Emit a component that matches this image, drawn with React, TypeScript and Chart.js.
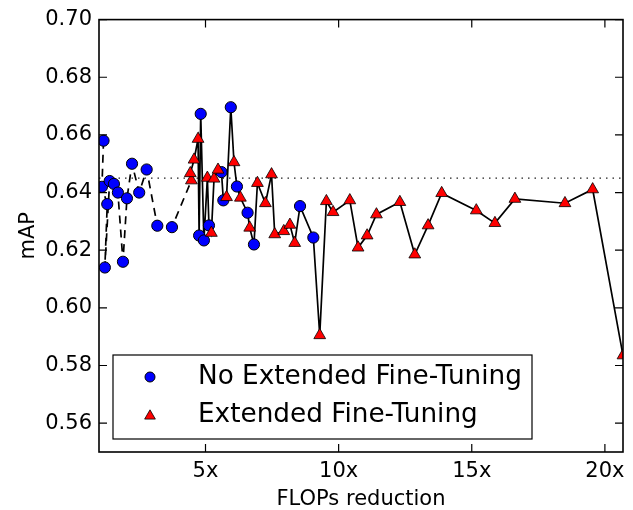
import React, { useEffect, useRef } from 'react';
import { Chart, registerables } from 'chart.js';

Chart.register(...registerables);

const FONT = '"DejaVu Sans", "Liberation Sans", sans-serif';

// Axis settings
const X_MIN = 1.0;
const X_MAX = 20.68;
const Y_MIN = 0.55;
const Y_MAX = 0.7;
const xTickValues = [5, 10, 15, 20];
const yTickValues = [0.56, 0.58, 0.6, 0.62, 0.64, 0.66, 0.68, 0.7];
const baselineMAP = 0.645;
const seriesLabels = ['No Extended Fine-Tuning', 'Extended Fine-Tuning'];

// No extended fine-tuning (dashed path, in drawing order)
const noFtX = [1.17, 1.11, 1.31, 1.22, 1.4, 1.56, 1.71, 1.9, 2.05, 2.24, 2.51, 2.79, 3.19, 3.74];
const noFtY = [0.658, 0.642, 0.636, 0.614, 0.644, 0.643, 0.64, 0.616, 0.638, 0.65, 0.64, 0.648, 0.6285, 0.628];

// Solid path (in drawing order); kind: 'E' = extended fine-tuning, 'N' = no extended fine-tuning
const pathX = [
  4.47, 4.43, 4.57, 4.72, 4.76, 4.82, 4.94, 5.07, 5.13, 5.22, 5.32, 5.47, 5.6, 5.67, 5.79, 5.95,
  6.07, 6.18, 6.31, 6.58, 6.66, 6.82, 6.95, 7.25, 7.48, 7.6, 7.94, 8.17, 8.35, 8.55, 9.05, 9.29,
  9.54, 9.79, 10.42, 10.73, 11.07, 11.42, 12.3, 12.86, 13.36, 13.87, 15.17, 15.87, 16.62, 18.5, 19.54, 20.68,
];
const pathY = [
  0.6442, 0.6467, 0.6514, 0.6586, 0.6251, 0.6673, 0.6234, 0.6451, 0.6286, 0.626, 0.6448, 0.6479, 0.6471, 0.6373, 0.6384, 0.6696,
  0.6505, 0.6421, 0.6382, 0.633, 0.6278, 0.622, 0.6433, 0.6363, 0.6463, 0.6255, 0.6266, 0.6288, 0.6225, 0.6353, 0.6244, 0.5905,
  0.637, 0.6332, 0.6373, 0.6209, 0.6251, 0.6324, 0.6367, 0.6185, 0.6286, 0.6398, 0.6338, 0.6294, 0.6378, 0.6363, 0.6411, 0.5835,
];
const pathKind = [
  'E', 'E', 'E', 'E', 'N', 'N', 'N', 'E', 'N', 'E', 'E', 'E', 'N', 'N', 'E', 'N',
  'E', 'N', 'E', 'N', 'E', 'N', 'E', 'E', 'E', 'E', 'E', 'E', 'E', 'N', 'N', 'E',
  'E', 'E', 'E', 'E', 'E', 'E', 'E', 'E', 'E', 'E', 'E', 'E', 'E', 'E', 'E', 'E',
];

const BLUE = '#0000ff';
const RED = '#ff0000';
const CIRCLE_R = 5.6;
const TRI_R = 6.8;

const framePlugin = {
  id: 'frameAndLegend',
  afterDatasetsDraw(chart: any) {
    const { ctx, chartArea } = chart;
    const { left, right, top, bottom } = chartArea;
    const xs = chart.scales.x;
    const ys = chart.scales.y;
    ctx.save();
    // inward ticks
    ctx.strokeStyle = '#000';
    ctx.lineWidth = 1.2;
    ctx.beginPath();
    for (const v of xTickValues) {
      const px = xs.getPixelForValue(v);
      ctx.moveTo(px, bottom);
      ctx.lineTo(px, bottom - 8);
      ctx.moveTo(px, top);
      ctx.lineTo(px, top + 8);
    }
    for (const v of yTickValues) {
      const py = ys.getPixelForValue(v);
      ctx.moveTo(left, py);
      ctx.lineTo(left + 8, py);
      ctx.moveTo(right, py);
      ctx.lineTo(right - 8, py);
    }
    ctx.stroke();
    // frame
    ctx.lineWidth = 1.6;
    ctx.strokeRect(left, top, right - left, bottom - top);

    // legend
    const bx = left + 14;
    const by = bottom - 97;
    const bw = 419;
    const bh = 84;
    ctx.fillStyle = '#fff';
    ctx.fillRect(bx, by, bw, bh);
    ctx.lineWidth = 1.2;
    ctx.strokeStyle = '#000';
    ctx.strokeRect(bx, by, bw, bh);

    const mx = bx + 37;
    // circle
    ctx.beginPath();
    ctx.arc(mx, by + 22, 5, 0, Math.PI * 2);
    ctx.fillStyle = BLUE;
    ctx.fill();
    ctx.lineWidth = 1;
    ctx.stroke();
    // triangle
    const r = 6.2;
    const ty = by + 61;
    ctx.beginPath();
    for (let i = 0; i < 3; i++) {
      const a = (i * 2 * Math.PI) / 3;
      const px = mx + Math.sin(a) * r;
      const py = ty - Math.cos(a) * r;
      if (i === 0) ctx.moveTo(px, py);
      else ctx.lineTo(px, py);
    }
    ctx.closePath();
    ctx.fillStyle = RED;
    ctx.fill();
    ctx.lineWidth = 0.8;
    ctx.stroke();

    ctx.fillStyle = '#000';
    ctx.font = `26.3px ${FONT}`;
    ctx.textBaseline = 'middle';
    ctx.textAlign = 'left';
    ctx.fillText(seriesLabels[0], bx + 85, by + 22);
    ctx.fillText(seriesLabels[1], bx + 85, by + 60);
    ctx.restore();
  },
};

export default function App() {
  const ref = useRef<HTMLCanvasElement | null>(null);

  useEffect(() => {
    if (!ref.current) return;
    const noFtPts = noFtX.map((x, i) => ({ x, y: noFtY[i] }));
    const pathPts = pathX.map((x, i) => ({ x, y: pathY[i] }));
    const dashedPts = [...noFtPts, pathPts[0]];
    const bluePts = [...noFtPts, ...pathPts.filter((_, i) => pathKind[i] === 'N')];
    const redPts = pathPts.filter((_, i) => pathKind[i] === 'E');

    Chart.defaults.font.family = FONT;
    Chart.defaults.color = '#000';

    const chart = new Chart(ref.current, {
      type: 'scatter',
      data: {
        datasets: [
          {
            label: 'ext-markers',
            data: redPts,
            pointStyle: 'triangle',
            pointRadius: TRI_R,
            pointBackgroundColor: RED,
            pointBorderColor: '#000',
            pointBorderWidth: 0.8,
            showLine: false,
            order: 0,
            clip: 0,
          },
          {
            label: 'no-markers',
            data: bluePts,
            pointStyle: 'circle',
            pointRadius: CIRCLE_R,
            pointBackgroundColor: BLUE,
            pointBorderColor: '#000',
            pointBorderWidth: 1,
            showLine: false,
            order: 1,
            clip: 0,
          },
          {
            label: 'solid',
            data: pathPts,
            showLine: true,
            borderColor: '#000',
            borderWidth: 1.7,
            pointRadius: 0,
            order: 2,
            clip: 0,
          },
          {
            label: 'dashed',
            data: dashedPts,
            showLine: true,
            borderColor: '#000',
            borderWidth: 1.7,
            borderDash: [8, 6],
            pointRadius: 0,
            order: 3,
            clip: 0,
          },
          {
            label: 'baseline',
            data: [
              { x: X_MIN, y: baselineMAP },
              { x: X_MAX, y: baselineMAP },
            ],
            showLine: true,
            borderColor: '#222',
            borderWidth: 1.3,
            borderDash: [1.5, 5],
            pointRadius: 0,
            order: 4,
            clip: 0,
          },
        ],
      },
      options: {
        animation: false,
        responsive: true,
        maintainAspectRatio: false,
        events: [],
        layout: { padding: { top: 19, right: 10, left: 0, bottom: 0 } },
        plugins: {
          legend: { display: false },
          tooltip: { enabled: false },
        },
        scales: {
          x: {
            type: 'linear',
            min: X_MIN,
            max: X_MAX,
            grid: { display: false, drawTicks: false },
            border: { display: false },
            afterBuildTicks: (s: any) => {
              s.ticks = xTickValues.map((v) => ({ value: v }));
            },
            afterFit: (s: any) => {
              s.height = 58;
            },
            ticks: {
              padding: 7,
              font: { size: 21 },
              color: '#000',
              maxRotation: 0,
              callback: (v: any) => `${v}x`,
            },
            title: {
              display: true,
              text: 'FLOPs reduction',
              font: { size: 21, lineHeight: 1 },
              color: '#000',
              padding: { top: 0, bottom: 0 },
            },
          },
          y: {
            type: 'linear',
            min: Y_MIN,
            max: Y_MAX,
            grid: { display: false, drawTicks: false },
            border: { display: false },
            afterBuildTicks: (s: any) => {
              s.ticks = yTickValues.map((v) => ({ value: v }));
            },
            afterFit: (s: any) => {
              s.width = 99;
            },
            ticks: {
              padding: 7,
              font: { size: 21 },
              color: '#000',
              callback: (v: any) => Number(v).toFixed(2),
            },
            title: {
              display: true,
              text: 'mAP',
              font: { size: 21 },
              color: '#000',
              padding: { top: 16, bottom: 0 },
            },
          },
        },
      },
      plugins: [framePlugin],
    } as any);

    return () => chart.destroy();
  }, []);

  return (
    <div style={{ position: 'absolute', left: 0, top: 0, width: 633, height: 510 }}>
      <canvas ref={ref} />
    </div>
  );
}
